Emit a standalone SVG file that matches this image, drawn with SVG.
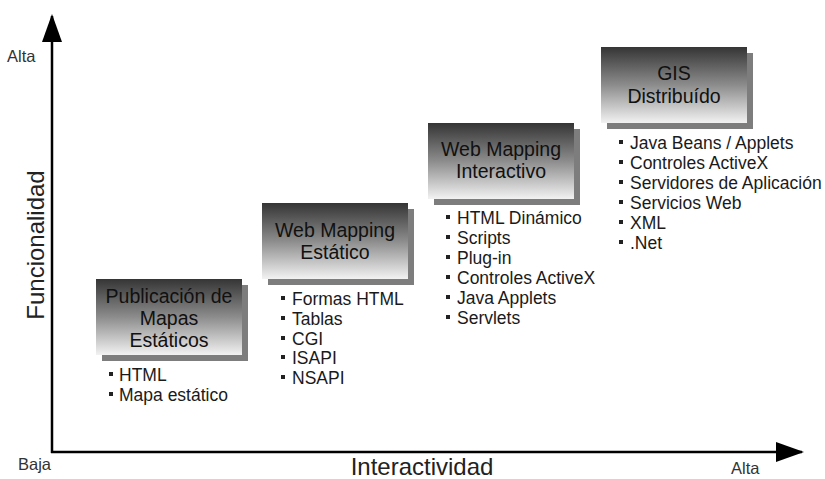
<svg xmlns="http://www.w3.org/2000/svg" width="825" height="479" viewBox="0 0 825 479">
  <defs>
    <linearGradient id="boxFill" x1="0" y1="0" x2="0" y2="1">
      <stop offset="0" stop-color="#353535"/>
      <stop offset="0.5" stop-color="#8c8c8c"/>
      <stop offset="1" stop-color="#f2f2f2"/>
    </linearGradient>
    <marker id="arrow" viewBox="0 0 28 20" refX="26" refY="10" markerWidth="28" markerHeight="20" markerUnits="userSpaceOnUse" orient="auto">
      <path d="M0,0 L28,10 L0,20 Z" fill="#000"/>
    </marker>
  </defs>
  <style>
    text { font-family: "Liberation Sans", Arial, sans-serif; }
    .title { font-size: 19.5px; fill: #111; text-anchor: middle; }
    .item { font-size: 17.5px; fill: #1a1a1a; }
    .bullet { fill: #222; }
    .shadow { fill: #7d7d7d; }
    .box { fill: url(#boxFill); }
    .axis { stroke: #000; stroke-width: 2.5; fill: none; }
    .axis-title { font-size: 24px; fill: #222; text-anchor: middle; }
    .scale { font-size: 16.5px; fill: #333; }
  </style>
  <rect width="825" height="479" fill="#fff"/>

  <!-- axes -->
  <g id="connectors">
    <path class="axis" d="M52,453 L52,16" marker-end="url(#arrow)"/>
    <path class="axis" d="M51,452 L802,452" marker-end="url(#arrow)"/>
  </g>

  <!-- axis labels -->
  <g id="axis-labels">
    <text class="axis-title" transform="translate(44,245) rotate(-90)">Funcionalidad</text>
    <text class="axis-title" x="422" y="475">Interactividad</text>
    <text class="scale" x="7" y="62">Alta</text>
    <text class="scale" x="18" y="470">Baja</text>
    <text class="scale" x="731" y="474">Alta</text>
  </g>

  <!-- stage 1 -->
  <g id="node-publicacion">
    <rect class="shadow" x="102" y="285" width="146" height="76"/>
    <rect class="box" x="96" y="279" width="146" height="76"/>
    <text class="title" x="169" y="303">Publicación de</text>
    <text class="title" x="169" y="325">Mapas</text>
    <text class="title" x="169" y="347">Estáticos</text>
    <rect class="bullet" x="109" y="372" width="4" height="4"/>
    <text class="item" x="119" y="381">HTML</text>
    <rect class="bullet" x="109" y="392" width="4" height="4"/>
    <text class="item" x="119" y="401">Mapa estático</text>
  </g>

  <!-- stage 2 -->
  <g id="node-estatico">
    <rect class="shadow" x="268" y="209" width="146" height="76"/>
    <rect class="box" x="262" y="203" width="146" height="76"/>
    <text class="title" x="335" y="237">Web Mapping</text>
    <text class="title" x="335" y="259">Estático</text>
    <rect class="bullet" x="281" y="296" width="4" height="4"/>
    <text class="item" x="292" y="305">Formas HTML</text>
    <rect class="bullet" x="281" y="316" width="4" height="4"/>
    <text class="item" x="292" y="325">Tablas</text>
    <rect class="bullet" x="281" y="336" width="4" height="4"/>
    <text class="item" x="292" y="345">CGI</text>
    <rect class="bullet" x="281" y="355" width="4" height="4"/>
    <text class="item" x="292" y="364">ISAPI</text>
    <rect class="bullet" x="281" y="375" width="4" height="4"/>
    <text class="item" x="292" y="384">NSAPI</text>
  </g>

  <!-- stage 3 -->
  <g id="node-interactivo">
    <rect class="shadow" x="434" y="129" width="146" height="76"/>
    <rect class="box" x="428" y="123" width="146" height="76"/>
    <text class="title" x="501" y="156">Web Mapping</text>
    <text class="title" x="501" y="178">Interactivo</text>
    <rect class="bullet" x="446" y="215" width="4" height="4"/>
    <text class="item" x="457" y="224">HTML Dinámico</text>
    <rect class="bullet" x="446" y="235" width="4" height="4"/>
    <text class="item" x="457" y="244">Scripts</text>
    <rect class="bullet" x="446" y="255" width="4" height="4"/>
    <text class="item" x="457" y="264">Plug-in</text>
    <rect class="bullet" x="446" y="275" width="4" height="4"/>
    <text class="item" x="457" y="284">Controles ActiveX</text>
    <rect class="bullet" x="446" y="295" width="4" height="4"/>
    <text class="item" x="457" y="304">Java Applets</text>
    <rect class="bullet" x="446" y="315" width="4" height="4"/>
    <text class="item" x="457" y="324">Servlets</text>
  </g>

  <!-- stage 4 -->
  <g id="node-distribuido">
    <rect class="shadow" x="607" y="53" width="146" height="76"/>
    <rect class="box" x="601" y="47" width="146" height="76"/>
    <text class="title" x="674" y="80">GIS</text>
    <text class="title" x="674" y="103">Distribuído</text>
    <rect class="bullet" x="619" y="140" width="4" height="4"/>
    <text class="item" x="630" y="149">Java Beans / Applets</text>
    <rect class="bullet" x="619" y="160" width="4" height="4"/>
    <text class="item" x="630" y="169">Controles ActiveX</text>
    <rect class="bullet" x="619" y="180" width="4" height="4"/>
    <text class="item" x="630" y="189">Servidores de Aplicación</text>
    <rect class="bullet" x="619" y="200" width="4" height="4"/>
    <text class="item" x="630" y="209">Servicios Web</text>
    <rect class="bullet" x="619" y="220" width="4" height="4"/>
    <text class="item" x="630" y="229">XML</text>
    <rect class="bullet" x="619" y="240" width="4" height="4"/>
    <text class="item" x="630" y="249">.Net</text>
  </g>
</svg>
